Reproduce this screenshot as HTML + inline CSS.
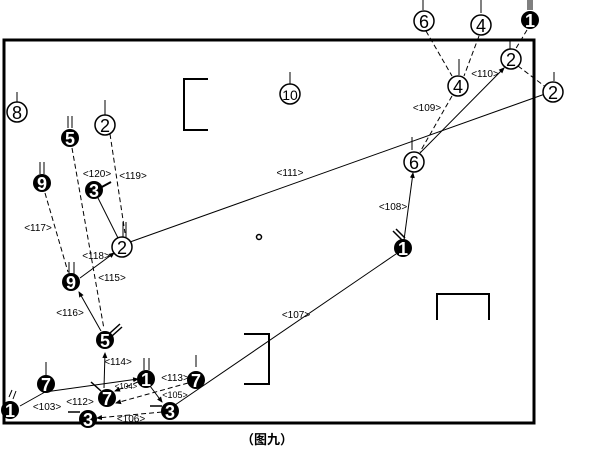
<!DOCTYPE html>
<html><head><meta charset="utf-8"><style>
html,body{margin:0;padding:0;background:#fff;width:600px;height:450px;overflow:hidden}
svg text{font-family:"Liberation Sans","Noto Sans CJK SC",sans-serif}
</style></head><body>
<svg width="600" height="450" viewBox="0 0 600 450" xmlns="http://www.w3.org/2000/svg">
<defs>
<marker id="a" markerWidth="6" markerHeight="6" refX="5" refY="3" orient="auto"><path d="M0,0.5 L6,3 L0,5.5z" fill="#000"/></marker>
</defs>
<rect x="4" y="40" width="530" height="383" fill="none" stroke="#000" stroke-width="3"/>
<path d="M208,79 H184 V130 H208" fill="none" stroke="#000" stroke-width="2"/>
<path d="M244,334 H269 V384 H244" fill="none" stroke="#000" stroke-width="2"/>
<path d="M437,320 V294 H489 V320" fill="none" stroke="#000" stroke-width="2"/>
<circle cx="259" cy="237" r="2.5" fill="none" stroke="#000" stroke-width="1.5"/>
<g stroke="#000" stroke-width="1" fill="none">
<line x1="130" y1="242" x2="545" y2="94"/>
<line x1="404" y1="240" x2="413" y2="173" marker-end="url(#a)"/>
<line x1="420" y1="153" x2="504" y2="68" marker-end="url(#a)"/>
<line x1="175" y1="405" x2="396" y2="254"/>
<line x1="20" y1="406" x2="45" y2="392"/>
<line x1="45" y1="392" x2="138" y2="379" marker-end="url(#a)"/>
<line x1="101" y1="331" x2="79" y2="292" marker-end="url(#a)"/>
<line x1="80" y1="278" x2="114" y2="253" marker-end="url(#a)"/>
<line x1="118" y1="238" x2="98" y2="198"/>
<line x1="104" y1="388" x2="105" y2="353" marker-end="url(#a)"/>
<line x1="150" y1="386" x2="162" y2="402" marker-end="url(#a)"/>
<g stroke-dasharray="5,3">
<line x1="426" y1="31" x2="452" y2="76"/>
<line x1="479" y1="36" x2="464" y2="76"/>
<line x1="527" y1="30" x2="515" y2="50"/>
<line x1="518" y1="66" x2="547" y2="88"/>
<line x1="452" y1="96" x2="420" y2="152"/>
<line x1="110" y1="134" x2="125" y2="233"/>
<line x1="72" y1="148" x2="104" y2="329"/>
<line x1="45" y1="193" x2="68" y2="272"/>
<line x1="138" y1="382" x2="115" y2="391" marker-end="url(#a)"/>
<line x1="188" y1="383" x2="116" y2="403" marker-end="url(#a)"/>
<line x1="162" y1="412" x2="97" y2="418" marker-end="url(#a)"/>
</g>
<line x1="17" y1="92" x2="17" y2="102"/>
<line x1="290" y1="72" x2="290" y2="84"/>
<line x1="105" y1="100" x2="105" y2="115"/>
<line x1="68" y1="116" x2="68" y2="128"/><line x1="72" y1="116" x2="72" y2="128"/>
<line x1="40" y1="162" x2="40" y2="174"/><line x1="44" y1="162" x2="44" y2="174"/>
<line x1="100" y1="188" x2="111" y2="182" stroke-width="2"/>
<line x1="123" y1="222" x2="123" y2="237"/><line x1="126" y1="222" x2="126" y2="237"/>
<line x1="69" y1="262" x2="69" y2="274"/><line x1="74" y1="262" x2="74" y2="274"/>
<line x1="110" y1="333" x2="120" y2="324" stroke-width="1.5"/><line x1="112" y1="336" x2="122" y2="327" stroke-width="1.5"/>
<line x1="46" y1="362" x2="46" y2="375"/>
<line x1="144" y1="358" x2="144" y2="370"/><line x1="149" y1="358" x2="149" y2="370"/>
<line x1="196" y1="355" x2="196" y2="367"/>
<line x1="91" y1="382" x2="101" y2="391" stroke-width="1.5"/>
<line x1="9" y1="397" x2="12" y2="390"/><line x1="13" y1="399" x2="16" y2="391"/>
<line x1="68" y1="412" x2="80" y2="412" stroke-width="1.5"/>
<line x1="150" y1="406" x2="162" y2="406" stroke-width="1.5"/>
<line x1="393" y1="231" x2="402" y2="240" stroke-width="1.5"/><line x1="396" y1="229" x2="405" y2="238" stroke-width="1.5"/>
<line x1="412" y1="137" x2="412" y2="150"/>
<line x1="459" y1="59" x2="459" y2="75"/>
<line x1="510" y1="40" x2="510" y2="49"/>
<line x1="554" y1="72" x2="554" y2="81"/>
<line x1="423" y1="0" x2="423" y2="10"/>
<line x1="481" y1="0" x2="481" y2="13"/>
<line x1="528" y1="0" x2="528" y2="10"/><line x1="530" y1="0" x2="530" y2="10"/><line x1="532" y1="0" x2="532" y2="10"/>
</g>
<g font-size="18" text-anchor="middle" stroke-width="1.5">
<g fill="#fff" stroke="#000">
<circle cx="17" cy="112" r="10"/><circle cx="290" cy="94" r="10"/><circle cx="105" cy="125" r="10"/>
<circle cx="122" cy="247" r="10"/><circle cx="414" cy="162" r="10"/><circle cx="458" cy="86" r="10"/>
<circle cx="511" cy="59" r="10"/><circle cx="553" cy="92" r="10"/><circle cx="424" cy="21" r="10"/><circle cx="481" cy="25" r="10"/>
</g>
<g fill="#000">
<circle cx="70" cy="138" r="9"/><circle cx="42" cy="183" r="9"/><circle cx="94" cy="190" r="9"/><circle cx="71" cy="282" r="9"/>
<circle cx="105" cy="340" r="9"/><circle cx="46" cy="384" r="9"/><circle cx="146" cy="379" r="9"/><circle cx="196" cy="380" r="9"/>
<circle cx="107" cy="398" r="9"/><circle cx="10" cy="410" r="9"/><circle cx="88" cy="419" r="9"/><circle cx="170" cy="411" r="9"/>
<circle cx="403" cy="248" r="9"/><circle cx="530" cy="20" r="9"/>
</g>
<g fill="#000">
<text x="17" y="119">8</text><text x="290" y="100" font-size="14">10</text><text x="105" y="132">2</text>
<text x="122" y="254">2</text><text x="414" y="169">6</text><text x="458" y="93">4</text>
<text x="511" y="66">2</text><text x="553" y="99">2</text><text x="424" y="28">6</text><text x="481" y="32">4</text>
</g>
<g fill="#fff" font-weight="bold">
<text x="70" y="145">5</text><text x="42" y="190">9</text><text x="94" y="197">3</text><text x="71" y="289">9</text>
<text x="105" y="347">5</text><text x="46" y="391">7</text><text x="146" y="386">1</text><text x="196" y="387">7</text>
<text x="107" y="405">7</text><text x="10" y="417">1</text><text x="88" y="426">3</text><text x="170" y="418">3</text>
<text x="403" y="255">1</text><text x="530" y="27">1</text>
</g>
</g>
<g font-size="10" fill="#000" text-anchor="middle">
<text x="290" y="176">&lt;111&gt;</text><text x="393" y="210">&lt;108&gt;</text><text x="427" y="111">&lt;109&gt;</text>
<text x="485" y="77">&lt;110&gt;</text><text x="296" y="318">&lt;107&gt;</text><text x="97" y="177">&lt;120&gt;</text>
<text x="133" y="179">&lt;119&gt;</text><text x="38" y="231">&lt;117&gt;</text><text x="96" y="259">&lt;118&gt;</text>
<text x="112" y="281">&lt;115&gt;</text><text x="70" y="316">&lt;116&gt;</text><text x="118" y="365">&lt;114&gt;</text>
<text x="126" y="389" font-size="8">&lt;104&gt;</text><text x="175" y="381">&lt;113&gt;</text><text x="175" y="398" font-size="9">&lt;105&gt;</text>
<text x="47" y="410">&lt;103&gt;</text><text x="80" y="405">&lt;112&gt;</text><text x="131" y="422">&lt;106&gt;</text>
</g>
<text x="267" y="444" font-size="13" font-weight="bold" text-anchor="middle" fill="#000" font-family="'Liberation Sans','Noto Sans CJK SC',sans-serif">（图九）</text>
</svg>
</body></html>
